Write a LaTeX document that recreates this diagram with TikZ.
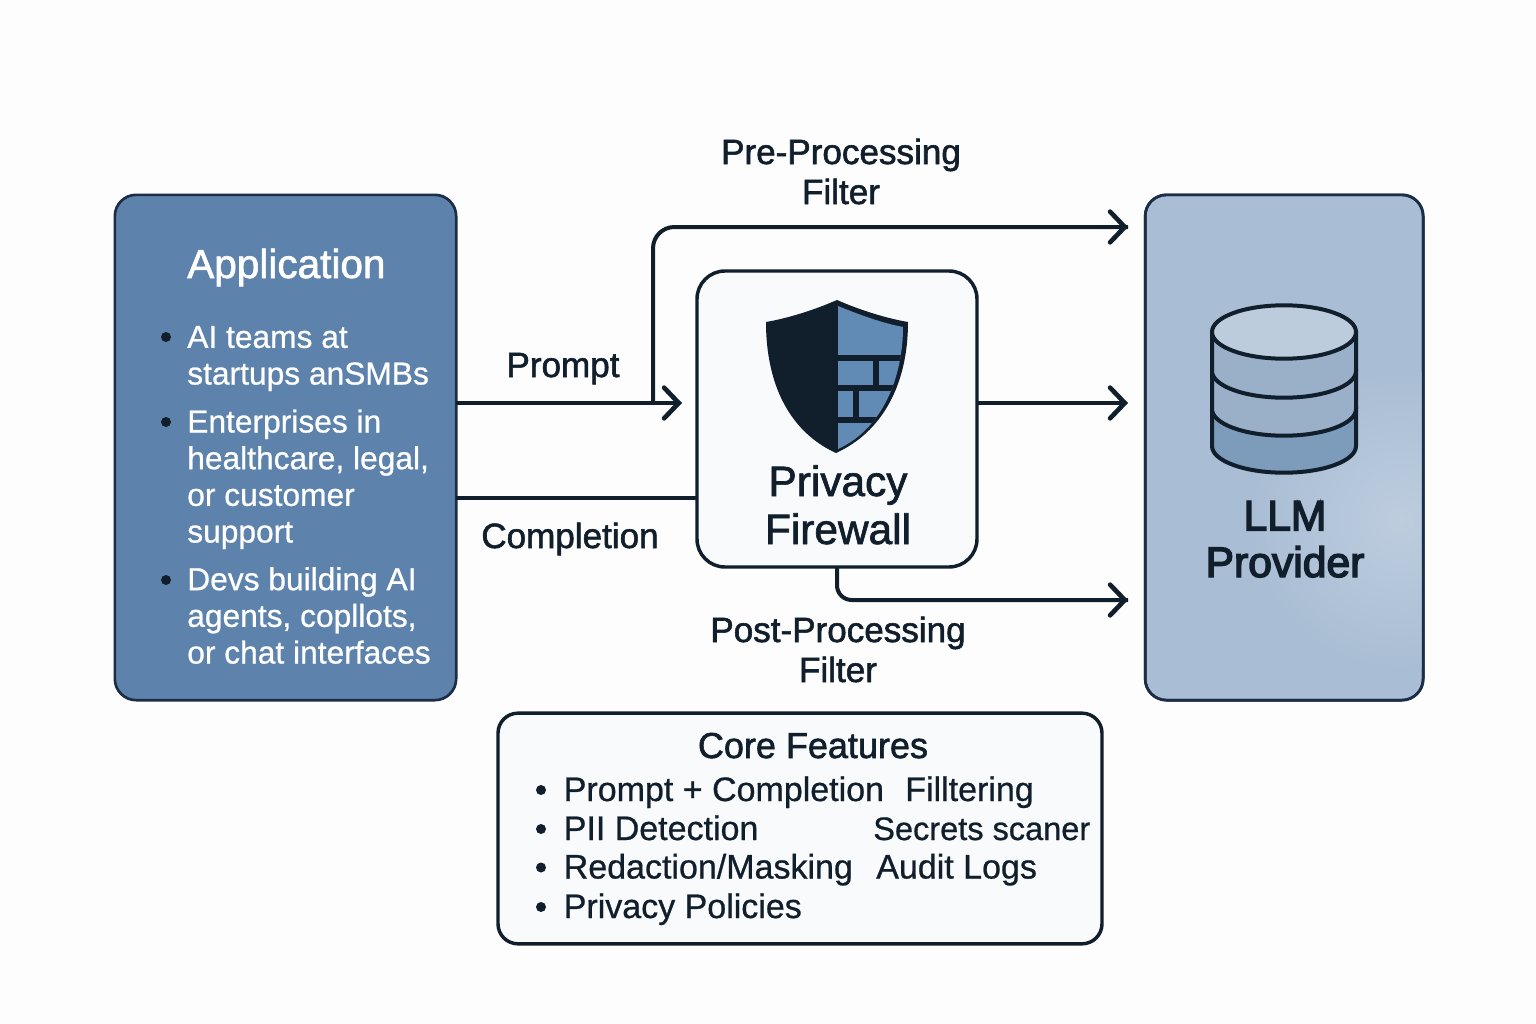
\documentclass[tikz,border=0pt]{standalone}
\usepackage{fontspec}
\usepackage{xcolor}
\setmainfont{Liberation Sans}
\newfontfamily\rowfont[FakeBold=0.7]{Liberation Sans}
\newfontfamily\medfont[FakeBold=1.6]{Liberation Sans}
\newfontfamily\heavyfont[FakeBold=3.4]{Liberation Sans}
\usetikzlibrary{arrows.meta}
\usetikzlibrary{positioning}
\definecolor{ink}{HTML}{111E2C}
\definecolor{edgeblue}{HTML}{1B2E45}
\definecolor{appblue}{HTML}{5D83AD}
\definecolor{llmblue}{HTML}{A9BDD4}
\definecolor{llmglow}{HTML}{BDCDDE}
\definecolor{panel}{HTML}{F8FAFC}
\definecolor{paper}{HTML}{FDFDFE}
\definecolor{shieldblue}{HTML}{618AB4}
\definecolor{cyltop}{HTML}{BDCCDC}
\definecolor{cylmid}{HTML}{9AAFC8}
\definecolor{cyllow}{HTML}{7D9CBB}

\begin{document}
\begin{tikzpicture}[x=0.75pt,y=-0.75pt,
    box/.style={draw, rectangle, inner sep=0pt, outer sep=0pt},
    flow/.style={draw=ink, line width=3pt},
    tip/.style={-{Straight Barb[length=11pt,width=23pt,line cap=round,line width=3.5pt]}},
    dot/.style={circle, fill=ink, inner sep=0pt, minimum size=7.5pt},
    lbl/.style={text=ink, anchor=base, align=center, inner sep=0pt, font=\medfont\fontsize{26.3}{30}\selectfont},
    item/.style={text=white, anchor=base west, align=left, inner sep=0pt, font=\rowfont\fontsize{23.8}{27.5}\selectfont},
    row/.style={text=ink, anchor=base west, inner sep=0pt, font=\rowfont\fontsize{25.5}{30}\selectfont}]
    \fill[paper] (0,0) rectangle (1536,1024);
    \useasboundingbox (0,0) rectangle (1536,1024);

    \node[box, draw=edgeblue, line width=2pt, fill=appblue, rounded corners=16pt,
        minimum width=256pt, minimum height=379pt] (app) at (285.5,447.5) {};
    \node[box, draw=edgeblue, line width=2pt, fill=llmblue, rounded corners=16pt,
        minimum width=208.5pt, minimum height=379pt, right=516.75pt of app] (llm) {};
    \node[box, draw=ink, line width=2.6pt, fill=panel, rounded corners=21pt,
        minimum width=210pt, minimum height=222pt] (fw) at (837,419) {};
    \node[box, draw=ink, line width=2.6pt, fill=panel, rounded corners=15pt,
        minimum width=453pt, minimum height=173pt] (core) at (800,828.5) {};

    \begin{scope}
        \clip[rounded corners=16pt] (llm.south west) rectangle (llm.north east);
        \shade[inner color=llmglow, outer color=llmblue] (1400,520) circle (150);
    \end{scope}
    \draw[edgeblue, line width=2pt, rounded corners=16pt] (llm.south west) rectangle (llm.north east);

    \coordinate (promptend) at (682,403);
    \coordinate (branch) at (653,403);
    \coordinate (preend) at (1128,227);
    \coordinate (fwend) at (1128,403);
    \coordinate (postend) at (1128,600);
    \coordinate (complend) at (697,498);

    \draw[flow, rounded corners=16pt] (branch) |- (preend);
    \draw[flow, tip] (fw.north |- preend) -- (preend);
    \draw[flow, tip] (app.east |- promptend) -- (promptend);
    \draw[flow] (app.east |- complend) -- (fw.west |- complend);
    \draw[flow, tip] (fw.east |- fwend) -- (fwend);
    \draw[flow, rounded corners=11pt] (fw.south) |- (postend);
    \draw[flow, tip] (fw.east |- postend) -- (postend);

    \node[lbl] (prompt) at (563,377) {Prompt};
    \node[lbl] (compl) at (570,548) {Completion};
    \node[lbl] (pre) at (841,204) {Pre-Processing\\Filter};
    \node[lbl] (post) at (838,682) {Post-Processing\\Filter};

    \fill[ink, line join=round] (837,300) .. controls (860,310) and (885,318) .. (908,322)
        .. controls (908,385) and (882,432) .. (836,453)
        .. controls (790,432) and (766,385) .. (766,322)
        .. controls (789,318) and (814,310) .. (837,300) -- cycle;
    \begin{scope}
        \clip (838,306) .. controls (860,315) and (882,323) .. (903,327)
            .. controls (903,375) and (884,428) .. (838,449) -- cycle;
        \fill[shieldblue] (830,300) rectangle (910,455);
        \draw[ink, line width=4.5pt] (830,358) -- (910,358) (830,388) -- (910,388) (830,420) -- (910,420)
            (876,358) -- (876,388) (855.5,388) -- (855.5,420);
    \end{scope}
    \node[lbl, font=\medfont\fontsize{31.8}{36}\selectfont] (fwtext) at (838,544) {Privacy\\Firewall};

    \foreach \cy/\col in {446/cyllow, 409/cylmid, 371/cylmid} {
        \draw[ink, line width=3pt, fill=\col] (1212,\cy-40) -- (1212,\cy)
            arc[start angle=180, end angle=0, x radius=72, y radius=26.7] -- (1356,\cy-40);
    }
    \draw[ink, line width=3pt, fill=cyltop] (1284,332) ellipse [x radius=72, y radius=26.7];
    \node[lbl, font=\heavyfont\fontsize{32}{35}\selectfont] (llmtext) at (1285,577) {LLM\\Provider};

    \node[item, font=\medfont\fontsize{30.4}{30}\selectfont] (apptitle) at (187,278) {Application};
    \node[item] (aiteams) at (187,384.5) {AI teams at\\startups anSMBs};
    \node[item] (ent) at (187,542.5) {Enterprises in\\healthcare, legal,\\or customer\\support};
    \node[item] (devs) at (187,663.5) {Devs building AI\\agents, copllots,\\or chat interfaces};
    \foreach \y/\n in {337/a, 422/b, 580/c} {
        \node[dot] (appdot\n) at (166,\y) {};
    }

    \node[lbl, font=\medfont\fontsize{27}{30}\selectfont] (coretitle) at (813,758) {Core Features};
    \foreach \y/\n/\txt in {801/a/{Prompt + Completion}, 840/b/{PII Detection}, 878.5/c/{Redaction/Masking}, 918/d/{Privacy Policies}} {
        \node[dot] (coredot\n) at (541,\y-11) {};
        \node[row] (corerow\n) at (563.5,\y) {\txt};
    }
    \node[row] (filt) at (905,801) {Filltering};
    \node[row, font=\rowfont\fontsize{24.4}{30}\selectfont] (secrets) at (873,840) {Secrets scaner};
    \node[row] (audit) at (876,878.5) {Audit Logs};
\end{tikzpicture}
\end{document}
